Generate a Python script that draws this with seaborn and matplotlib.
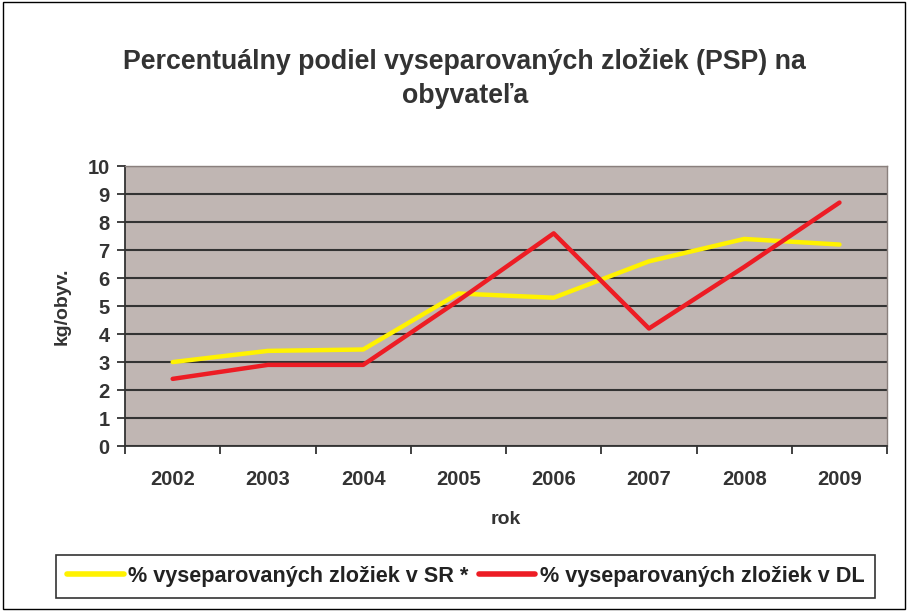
import pandas as pd
import numpy as np
import matplotlib
matplotlib.use("Agg")
import matplotlib.pyplot as plt
import seaborn as sns
from matplotlib.patches import Rectangle

sns.set_style("ticks")
plt.rcParams['font.family'] = ['Liberation Sans', 'DejaVu Sans']
plt.rcParams['font.weight'] = 'bold'

years = ['2002', '2003', '2004', '2005', '2006', '2007', '2008', '2009']
sr_values = [3.0, 3.4, 3.45, 5.45, 5.3, 6.6, 7.4, 7.2]
dl_values = [2.4, 2.9, 2.9, 5.2, 7.6, 4.2, 6.4, 8.7]
series_names = ['% vyseparovaných zložiek v SR *', '% vyseparovaných zložiek v DL']
colors = ['#FFF200', '#ED1C24']

df = pd.DataFrame({
    'rok': years * 2,
    'value': sr_values + dl_values,
    'series': [series_names[0]] * len(years) + [series_names[1]] * len(years),
})
df['pos'] = df['rok'].map({y: i for i, y in enumerate(years)})

fig = plt.figure(figsize=(9.08, 6.11), dpi=100)
ax = fig.add_axes([0.1377, 0.270, 0.8393, 0.458])
ax.set_facecolor('#C0B6B3')

sns.lineplot(data=df, x='pos', y='value', hue='series', palette=colors,
             linewidth=3.2, ax=ax, legend=False, sort=False)

ax.set_xlim(-0.5, len(years) - 0.5)
ax.set_ylim(0, 10)
ax.set_yticks(range(0, 11))
ax.set_xticks(np.arange(-0.5, len(years), 1.0))
ax.set_xticklabels([])
ax.set_xticks(range(len(years)), minor=True)
ax.set_xticklabels(years, minor=True)
ax.tick_params(axis='x', which='minor', length=0, pad=17, labelsize=14.5, labelcolor='#333333')
ax.tick_params(axis='x', which='major', length=6, width=1.3, color='#333333')
ax.tick_params(axis='y', length=6, width=1.3, color='#333333', labelsize=14.5,
               pad=5, labelcolor='#333333')
for lbl in ax.get_xticklabels(minor=True) + ax.get_yticklabels():
    lbl.set_fontweight('bold')

ax.grid(axis='y', color='#333333', linewidth=1.5)
ax.set_axisbelow(True)
for side in ['left', 'bottom']:
    ax.spines[side].set_color('#333333')
    ax.spines[side].set_linewidth(1.3)
for side in ['top', 'right']:
    ax.spines[side].set_color('#8a807d')
    ax.spines[side].set_linewidth(1.0)

ax.set_xlabel('rok', fontsize=14, fontweight='bold', labelpad=16, color='#333333')
ax.set_ylabel('kg/obyv.', fontsize=14, fontweight='bold', labelpad=12, color='#333333')

fig.text(0.512, 0.872, 'Percentuálny podiel vyseparovaných zložiek (PSP) na\nobyvateľa',
         ha='center', va='center', fontsize=19.3, fontweight='bold',
         color='#333333', linespacing=1.4)

handles = [plt.Line2D([], [], color=c, linewidth=4) for c in colors]
leg = fig.legend(handles, series_names, loc='center', bbox_to_anchor=(0.513, 0.057),
                 ncol=2, frameon=True, fancybox=False,
                 handlelength=2.6, handletextpad=0.2, columnspacing=0.5,
                 borderpad=0.5, borderaxespad=0, prop={'weight': 'bold', 'size': 15.6})
leg.get_frame().set_edgecolor('black')
leg.get_frame().set_linewidth(1.2)
for t in leg.get_texts():
    t.set_color('#222222')

fig.patches.append(Rectangle((0.003, 0.003), 0.994, 0.994, transform=fig.transFigure,
                             fill=False, edgecolor='black', linewidth=1.0))

fig.savefig('out.png', dpi=100, facecolor='white')
